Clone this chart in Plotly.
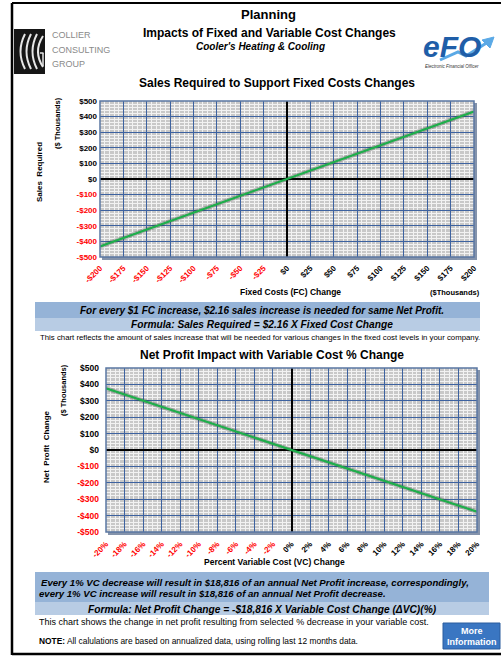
import plotly.graph_objects as go

W, H = 501, 657
ARIAL = "Liberation Sans, Arial, sans-serif"

# ---------------- data ----------------
fc_change = [-200, -175, -150, -125, -100, -75, -50, -25, 0, 25, 50, 75, 100, 125, 150, 175, 200]
sales_required = [-432, -378, -324, -270, -216, -162, -108, -54, 0, 54, 108, 162, 216, 270, 324, 378, 432]
fc_tick_labels = ["-$200", "-$175", "-$150", "-$125", "-$100", "-$75", "-$50", "-$25", "$0",
                  "$25", "$50", "$75", "$100", "$125", "$150", "$175", "$200"]

money_ticks = [-500, -400, -300, -200, -100, 0, 100, 200, 300, 400, 500]
money_labels = ["-$500", "-$400", "-$300", "-$200", "-$100", "$0", "$100", "$200", "$300", "$400", "$500"]

vc_change = [-20, -18, -16, -14, -12, -10, -8, -6, -4, -2, 0, 2, 4, 6, 8, 10, 12, 14, 16, 18, 20]
np_change = [376.32, 338.69, 301.06, 263.42, 225.79, 188.16, 150.53, 112.90, 75.26, 37.63, 0,
             -37.63, -75.26, -112.90, -150.53, -188.16, -225.79, -263.42, -301.06, -338.69, -376.32]
vc_tick_labels = ["-20%", "-18%", "-16%", "-14%", "-12%", "-10%", "-8%", "-6%", "-4%", "-2%", "0%",
                  "2%", "4%", "6%", "8%", "10%", "12%", "14%", "16%", "18%", "20%"]


def px(x):
    return x / W


def py(y):
    return 1 - y / H


MAJOR = "#3d62a0"
MINOR = "#f2f2f2"
BG = "#c8c8c8"
GREEN = "#1fae4b"
RED = "#ff0000"

annotations = []
shapes = []


def txt(x, y, s, size, bold=False, italic=False, color="black", xanchor="center", angle=0, family=ARIAL):
    annotations.append(dict(
        x=px(x), y=py(y), xref="paper", yref="paper", text=s, showarrow=False,
        xanchor=xanchor, yanchor="middle", textangle=angle, borderpad=0,
        font=dict(family=family, size=size, color=color,
                  weight="bold" if bold else "normal",
                  style="italic" if italic else "normal")))


def rect(x0, y0, x1, y1, fill, line=None, lw=0):
    shapes.append(dict(type="rect", xref="paper", yref="paper",
                       x0=px(x0), x1=px(x1), y0=py(y1), y1=py(y0),
                       fillcolor=fill, line=dict(color=line or fill, width=lw), layer="above"))


def seg(x0, y0, x1, y1, color, w):
    shapes.append(dict(type="line", xref="paper", yref="paper",
                       x0=px(x0), x1=px(x1), y0=py(y0), y1=py(y1),
                       line=dict(color=color, width=w), layer="above"))


# ---------------- figure ----------------
fig = go.Figure()

# empty traces so that the label-only overlay axes get drawn
for xa, ya in [("x3", "y"), ("x4", "y"), ("x", "y3"), ("x", "y4"),
               ("x5", "y2"), ("x6", "y2"), ("x2", "y5"), ("x2", "y6")]:
    fig.add_trace(go.Scatter(x=[], y=[], mode="lines", xaxis=xa, yaxis=ya, hoverinfo="skip"))

fig.add_trace(go.Scatter(x=fc_change, y=sales_required, mode="lines",
                         line=dict(color="rgba(30,30,30,0.25)", width=4.5),
                         xaxis="x", yaxis="y", hoverinfo="skip"))
fig.add_trace(go.Scatter(x=fc_change, y=sales_required, mode="lines",
                         line=dict(color=GREEN, width=2.2), xaxis="x", yaxis="y"))
fig.add_trace(go.Scatter(x=vc_change, y=np_change, mode="lines",
                         line=dict(color="rgba(30,30,30,0.25)", width=4.5),
                         xaxis="x2", yaxis="y2", hoverinfo="skip"))
fig.add_trace(go.Scatter(x=vc_change, y=np_change, mode="lines",
                         line=dict(color=GREEN, width=2.2), xaxis="x2", yaxis="y2"))

tick_font_black = dict(family=ARIAL, size=8, color="black", weight="bold")
tick_font_red = dict(family=ARIAL, size=8, color=RED, weight="bold")


def grid_axis(domain, rng, dtick, minor_dtick, anchor):
    return dict(domain=domain, range=rng, anchor=anchor, tickmode="linear", tick0=0, dtick=dtick,
                showticklabels=False, ticks="", showgrid=True, gridcolor=MAJOR, gridwidth=1,
                zeroline=True, zerolinecolor="black", zerolinewidth=2, showline=False,
                minor=dict(dtick=minor_dtick, tick0=0, showgrid=True, gridcolor=MINOR, gridwidth=1),
                fixedrange=True, automargin=False)


def label_axis(over, anchor, rng, vals, texts, font, angle=0, standoff=2, side=None):
    d = dict(overlaying=over, anchor=anchor, range=rng, tickmode="array", tickvals=vals, ticktext=texts,
             tickangle=angle, tickfont=font, showgrid=False, zeroline=False, showline=False, ticks="",
             ticklabelstandoff=standoff, fixedrange=True, automargin=False)
    if side:
        d["side"] = side
    return d


def split(vals, labels):
    neg = [(v, t) for v, t in zip(vals, labels) if v < 0]
    pos = [(v, t) for v, t in zip(vals, labels) if v >= 0]
    return ([v for v, _ in neg], [t for _, t in neg]), ([v for v, _ in pos], [t for _, t in pos])


top_xd = [px(100), px(474)]
top_yd = [py(257), py(101)]
bot_xd = [px(106), px(477)]
bot_yd = [py(532), py(368)]

(fxn, ftn), (fxp, ftp) = split(fc_change, fc_tick_labels)
(myn, mtn), (myp, mtp) = split(money_ticks, money_labels)
(vxn, vtn), (vxp, vtp) = split(vc_change, vc_tick_labels)

layout = dict(
    width=W, height=H, margin=dict(l=0, r=0, t=0, b=0, autoexpand=False),
    paper_bgcolor="white", plot_bgcolor=BG, showlegend=False,
    xaxis=grid_axis(top_xd, [-200, 200], 25, 5, "y"),
    yaxis=grid_axis(top_yd, [-500, 500], 100, 20, "x"),
    xaxis2=grid_axis(bot_xd, [-20, 20], 2, 0.5, "y2"),
    yaxis2=grid_axis(bot_yd, [-500, 500], 100, 20, "x2"),
    xaxis3=label_axis("x", "y", [-200, 200], fxp, ftp, tick_font_black, -45, 4, "bottom"),
    xaxis4=label_axis("x", "y", [-200, 200], fxn, ftn, tick_font_red, -45, 4, "bottom"),
    yaxis3=label_axis("y", "x", [-500, 500], myp, mtp, tick_font_black, 0, 2, "left"),
    yaxis4=label_axis("y", "x", [-500, 500], myn, mtn, tick_font_red, 0, 2, "left"),
    xaxis5=label_axis("x2", "y2", [-20, 20], vxp, vtp, tick_font_black, -45, 5, "bottom"),
    xaxis6=label_axis("x2", "y2", [-20, 20], vxn, vtn, tick_font_red, -45, 5, "bottom"),
    yaxis5=label_axis("y2", "x2", [-500, 500], myp, mtp, dict(tick_font_black, size=8.5), 0, 6, "left"),
    yaxis6=label_axis("y2", "x2", [-500, 500], myn, mtn, dict(tick_font_red, size=8.5), 0, 6, "left"),
)

# plot-area frames with shadow
for xr, yr, (x0, y0, x1, y1) in [("x", "y", (100, 101, 474, 257)), ("x2", "y2", (106, 368, 477, 532))]:
    rect(x1, y0 + 2, x1 + 3, y1 + 3, "#8493ab")
    rect(x0 + 2, y1, x1 + 3, y1 + 3, "#8493ab")
    shapes.append(dict(type="rect", xref=xr + " domain", yref=yr + " domain", x0=0, x1=1, y0=0, y1=1,
                       line=dict(color="#5a77a3", width=1.5), layer="above"))

# outer frame
seg(12, 3, 501, 3, "black", 2)
seg(12, 3, 12, 655, "black", 2.5)
seg(12, 654, 501, 654, "black", 2.5)

# header
txt(268, 15, "Planning", 13, bold=True)
txt(269, 33, "Impacts of Fixed and Variable Cost Changes", 12, bold=True)
txt(260, 46, "Cooler's Heating & Cooling", 10, bold=True, italic=True)

# left logo
rect(14, 29, 45, 74, "#161616")
for xt in [25, 31, 37]:
    shapes.append(dict(type="path", xref="paper", yref="paper",
                       path=f"M {px(xt)},{py(34)} Q {px(xt - 9)},{py(51.5)} {px(xt)},{py(69)}",
                       line=dict(color="#e6e6e6", width=2), layer="above"))
shapes.append(dict(type="path", xref="paper", yref="paper",
                   path=f"M {px(43)},{py(36)} Q {px(33)},{py(51.5)} {px(43)},{py(67)}",
                   line=dict(color="#e6e6e6", width=2), layer="above"))
seg(40, 53, 43.5, 53, "#e6e6e6", 1.5)
seg(43, 53, 43, 66, "#e6e6e6", 1.5)
txt(51, 35, "COLLIER", 9, color="#8a8a8a", xanchor="left")
txt(51, 50, "CONSULTING", 9, color="#8a8a8a", xanchor="left")
txt(51, 64, "GROUP", 9, color="#8a8a8a", xanchor="left")

# right logo (eFO)
shapes.append(dict(type="path", xref="paper", yref="paper",
                   path=(f"M {px(440)},{py(60)} L {px(458)},{py(52)} L {px(466)},{py(56)} "
                         f"L {px(488)},{py(42)}"),
                   line=dict(color="#5aa9e6", width=3), layer="above"))
shapes.append(dict(type="path", xref="paper", yref="paper",
                   path=f"M {px(482)},{py(40)} L {px(494)},{py(37)} L {px(490)},{py(48)} Z",
                   fillcolor="#5aa9e6", line=dict(color="#5aa9e6", width=1), layer="above"))
txt(452, 47, "eFO", 30, bold=True, italic=True, color="#1f5ea8")
txt(452, 67, "Electronic Financial Officer", 4.5, italic=True, color="#333333")

# top chart texts
txt(277, 83, "Sales Required to Support Fixed Costs Changes", 12, bold=True)
txt(39, 172, "Sales  Required", 8, bold=True, angle=-90)
txt(58, 123, "($ Thousands)", 7.5, bold=True, angle=-90)
txt(290, 292, "Fixed Costs (FC) Change", 8.5, bold=True)
txt(455, 292, "($Thousands)", 7.5, bold=True)

rect(35, 302, 480, 318, "#95b3d7")
rect(35, 318, 480, 331, "#b8cce4")
txt(262, 311, "For every $1 FC increase, $2.16 sales increase is needed for same Net Profit.", 10,
    bold=True, italic=True)
txt(262, 324.5, "Formula: Sales Required = $2.16 X Fixed Cost Change", 10.2, bold=True, italic=True)
txt(260, 337, "This chart reflects the amount of sales increase that will be needed for various changes "
              "in the fixed cost levels in your company.", 7.8)

# bottom chart texts
txt(272, 355, "Net Profit Impact with Variable Cost % Change", 12, bold=True)
txt(46, 447, "Net  Profit  Change", 8, bold=True, angle=-90)
txt(63, 390, "($ Thousands)", 7.5, bold=True, angle=-90)
txt(274, 562, "Percent Variable Cost (VC) Change", 8.5, bold=True)

rect(35, 572, 489, 602, "#95b3d7")
rect(35, 602, 489, 615, "#b8cce4")
txt(40, 582, "Every 1% VC decrease will result in $18,816 of an annual Net Profit increase, correspondingly,",
    9.6, bold=True, italic=True, xanchor="left")
txt(38, 593, "every 1% VC increase will result in $18,816 of an annual Net Profit decrease.",
    9.6, bold=True, italic=True, xanchor="left")
txt(262, 609, "Formula: Net Profit Change = -$18,816 X Variable Cost Change (\u0394VC)(%)", 10.2,
    bold=True, italic=True)
txt(38, 622, "This chart shows the change in net profit resulting from selected % decrease in your variable cost.",
    9, xanchor="left")
txt(38, 641, "<b>NOTE:</b> All calulations are based on annualized data, using rolling last 12 months data.",
    8.4, xanchor="left")

# button
rect(443, 623, 500, 649, "#3a76c2", "#2b5d9e", 1)
txt(471.5, 631, "More", 9, bold=True, color="white")
txt(471.5, 642, "Information", 9, bold=True, color="white")

layout["annotations"] = annotations
layout["shapes"] = shapes
fig.update_layout(**layout)
fig.write_html("out.html", config={"displayModeBar": False, "staticPlot": True},
               post_script="document.body.style.margin='0';")
